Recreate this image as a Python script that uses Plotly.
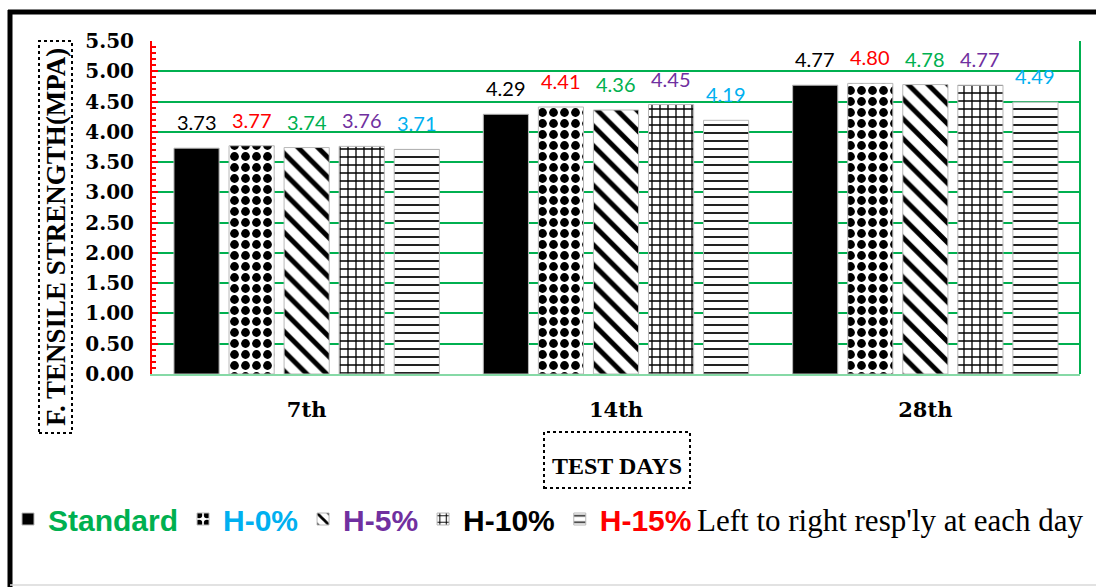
import plotly.graph_objects as go

days = ["7th", "14th", "28th"]
series_names = ["Standard", "H-0%", "H-5%", "H-10%", "H-15%"]
standard = [3.73, 4.29, 4.77]
h0 = [3.77, 4.41, 4.80]
h5 = [3.74, 4.36, 4.78]
h10 = [3.76, 4.45, 4.77]
h15 = [3.71, 4.19, 4.49]
y_ticks = [0, 0.5, 1.0, 1.5, 2.0, 2.5, 3.0, 3.5, 4.0, 4.5, 5.0, 5.5]
legend_note = "Left to right resp'ly at each day"

values = [standard, h0, h5, h10, h15]
label_colors = ["#000000", "#FF0000", "#00B050", "#7030A0", "#00B0F0"]
legend_colors = ["#00B050", "#00B0F0", "#7030A0", "#000000", "#FF0000"]
patterns = [
    dict(shape=""),
    dict(shape=".", fgcolor="black", bgcolor="white", size=11, solidity=0.5, fillmode="replace"),
    dict(shape="\\", fgcolor="black", bgcolor="white", size=14, solidity=0.35, fillmode="replace"),
    dict(shape="+", fgcolor="black", bgcolor="white", size=8, solidity=0.3, fillmode="replace"),
    dict(shape="-", fgcolor="#222222", bgcolor="white", size=8, solidity=0.25, fillmode="replace"),
]

W, H = 1096, 587
L, R, T, B = 152, 16, 41, 213
PW, PH = W - L - R, H - T - B
BARGAP, GROUPGAP = 0.11, 0.18
N = len(series_names)


def px(X):
    return (X - L) / PW


def py(Y):
    return (H - B - Y) / PH


fig = go.Figure()
for i, (name, vals) in enumerate(zip(series_names, values)):
    fig.add_trace(go.Bar(
        x=days, y=vals,
        name=f"<span style='color:{legend_colors[i]}'>{name}</span>",
        marker=dict(color="black" if i == 0 else "white",
                    pattern=patterns[i],
                    line=dict(color="#b8b8b8", width=1)),
        cliponaxis=False,
    ))
    slot = (1 - BARGAP) / N
    for gi, v in enumerate(vals):
        fig.add_annotation(x=gi + (i - (N - 1) / 2) * slot, y=v, xref="x", yref="y",
                           text=f"{v:.2f}", showarrow=False, xanchor="center",
                           yanchor="bottom", yshift=12,
                           font=dict(family="Lato", size=20, color=label_colors[i]))

fig.update_layout(
    width=W, height=H,
    margin=dict(l=L, r=R, t=T, b=B, autoexpand=False),
    paper_bgcolor="white", plot_bgcolor="white",
    barmode="group", bargap=BARGAP, bargroupgap=GROUPGAP,
    showlegend=True,
    legend=dict(orientation="h", xref="container", yref="container",
                x=8 / W, y=1 - 519 / H, xanchor="left", yanchor="middle",
                font=dict(family="Liberation Sans", size=30, color="black", weight="bold"),
                itemclick=False, bgcolor="rgba(0,0,0,0)"),
    xaxis=dict(
        showgrid=False, showline=True, linecolor="#86d9a6", linewidth=2,
        ticks="", ticklabelstandoff=16,
        tickfont=dict(family="DejaVu Serif", size=21, color="black", weight="bold"),
    ),
    yaxis=dict(
        range=[0, 5.5], tickvals=y_ticks, tickformat=".2f",
        showgrid=True, gridcolor="#00B050", gridwidth=2,
        showline=True, linecolor="#FF0000", linewidth=2,
        ticks="inside", ticklen=6, tickcolor="#FF0000", tickwidth=2,
        minor=dict(dtick=0.1, ticks="inside", ticklen=4, tickcolor="#FF0000", tickwidth=1.5, showgrid=False),
        tickfont=dict(family="DejaVu Serif", size=20, color="black", weight="bold"),
        zeroline=False, ticklabelstandoff=12,
    ),
)

shapes = [
    dict(type="line", xref="paper", yref="paper", x0=px(8), x1=px(W), y0=py(12), y1=py(12),
         line=dict(color="black", width=5)),
    dict(type="line", xref="paper", yref="paper", x0=px(10), x1=px(10), y0=py(10), y1=py(H),
         line=dict(color="black", width=5)),
    dict(type="line", xref="paper", yref="paper", x0=px(10), x1=px(W), y0=py(585), y1=py(585),
         line=dict(color="#d9d9d9", width=1.5)),
    dict(type="line", xref="paper", yref="paper", x0=1, x1=1, y0=0, y1=1,
         line=dict(color="#00B050", width=2)),
    dict(type="rect", xref="paper", yref="paper", x0=px(39), x1=px(72), y0=py(433), y1=py(41),
         line=dict(color="black", width=2, dash="dot")),
    dict(type="rect", xref="paper", yref="paper", x0=px(544), x1=px(690), y0=py(488), y1=py(432),
         line=dict(color="black", width=2, dash="dot")),
]
fig.update_layout(shapes=shapes)

fig.add_annotation(xref="paper", yref="paper", x=px(56), y=py(237),
                   xanchor="center", yanchor="middle",
                   text="F. TENSILE STRENGTH(MPA)", textangle=-90, showarrow=False,
                   font=dict(family="Liberation Serif", size=27, color="black", weight="bold"))
fig.add_annotation(xref="paper", yref="paper", x=px(617), y=py(466),
                   xanchor="center", yanchor="middle",
                   text="TEST DAYS", showarrow=False,
                   font=dict(family="Liberation Serif", size=24, color="black", weight="bold"))
fig.add_annotation(xref="paper", yref="paper", x=px(695), y=py(520),
                   xanchor="left", yanchor="middle",
                   text=legend_note, showarrow=False,
                   font=dict(family="Liberation Serif", size=31, color="black"))

fig.write_html("out.html")
